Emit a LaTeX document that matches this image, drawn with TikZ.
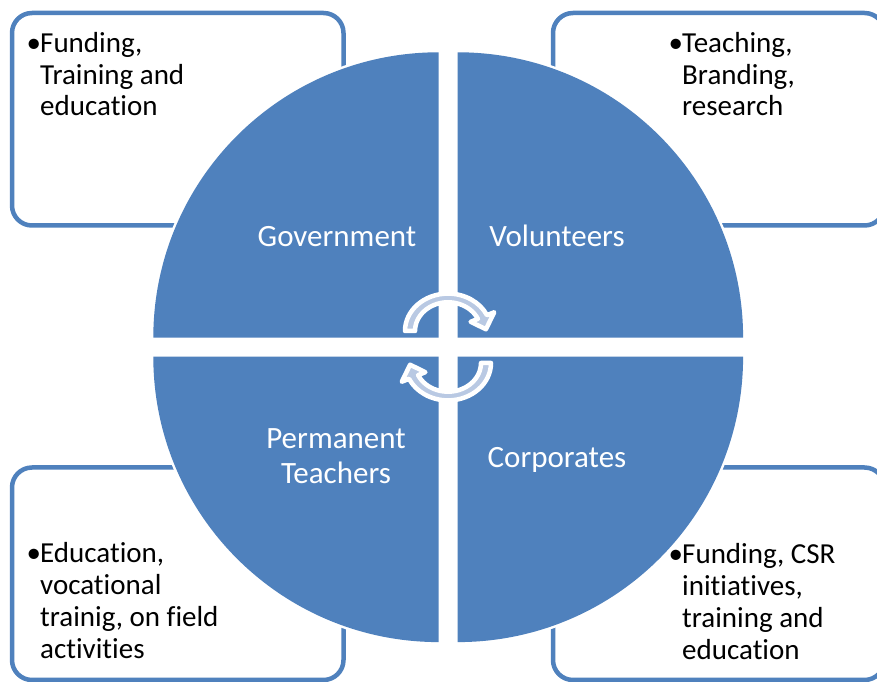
\documentclass[tikz,border=0pt]{standalone}
\usepackage{fontspec}
\setmainfont{Carlito}[Ligatures=NoCommon]
\definecolor{quadblue}{HTML}{4F81BD}
\definecolor{turnfill}{HTML}{B9C9E3}
\newcommand{\bul}{\makebox[11bp][l]{\hspace{-2.5bp}\textbullet}}

\begin{document}
\begin{tikzpicture}[x=1bp, y=1bp]
	\tikzstyle{quad} = [fill=quadblue, preaction={draw=white, line width=5bp}];
	\tikzstyle{infobox} = [draw=quadblue, line width=4.5bp, rounded corners=20bp, fill=white];
	\tikzstyle{role} = [text=white, inner sep=0, anchor=base, font={\fontsize{31bp}{35bp}\selectfont}];
	\tikzstyle{info} = [text=black, inner sep=0, anchor=base west, font={\fontsize{29bp}{31.7bp}\selectfont}];
	\tikzstyle{turn} = [fill=turnfill, draw=white, line width=4.5bp, line join=round];

	\useasboundingbox (0,0) rectangle (877,682);

	% text boxes, behind the circle
	\foreach \bx/\by in {12/456.5, 553/456.5, 12/2, 553/2}
		\draw[infobox] (\bx,\by) rectangle ++(331.5,212.5);

	% four quarters of the circle
	\foreach \qx/\qy/\qa in {438.7/344.3/90, 457.7/344.3/0, 438.7/325.3/180, 457.7/325.3/270}
		\path[quad] (\qx,\qy) -- ++(\qa:285.4) arc[start angle=\qa, delta angle=90, radius=285.4] -- cycle;

	% the two turning arrows
	\foreach \rot/\cy in {0/351, 180/319}
		\path[turn, shift={(448,\cy)}, rotate=\rot, yscale=0.87]
			(180:43) arc[start angle=180, end angle=25, radius=43] -- (25:51) -- (3:38)
			-- (25:25) -- (25:33) arc[start angle=25, end angle=180, radius=33] -- cycle;

	\node[role] (gov) at (337,435) {Government};
	\node[role] (vol) at (557,435) {Volunteers};
	\node[role] (perm) at (336,233.7) {\begin{tabular}[t]{@{}c@{}}Permanent\\Teachers\end{tabular}};
	\node[role] (corp) at (557,214) {Corporates};

	\node[info] (govinfo) at (29,629.5) {\begin{tabular}[t]{@{}l@{}l@{}}\bul & Funding,\\ & Training and\\ & education\end{tabular}};
	\node[info] (volinfo) at (671,629.5) {\begin{tabular}[t]{@{}l@{}l@{}}\bul & Teaching,\\ & Branding,\\ & research\end{tabular}};
	\node[info] (perminfo) at (29,119) {\begin{tabular}[t]{@{}l@{}l@{}}\bul & Education,\\ & vocational\\ & trainig, on field\\ & activities\end{tabular}};
	\node[info] (corpinfo) at (671,118) {\begin{tabular}[t]{@{}l@{}l@{}}\bul & Funding, CSR\\ & initiatives,\\ & training and\\ & education\end{tabular}};
\end{tikzpicture}
\end{document}
